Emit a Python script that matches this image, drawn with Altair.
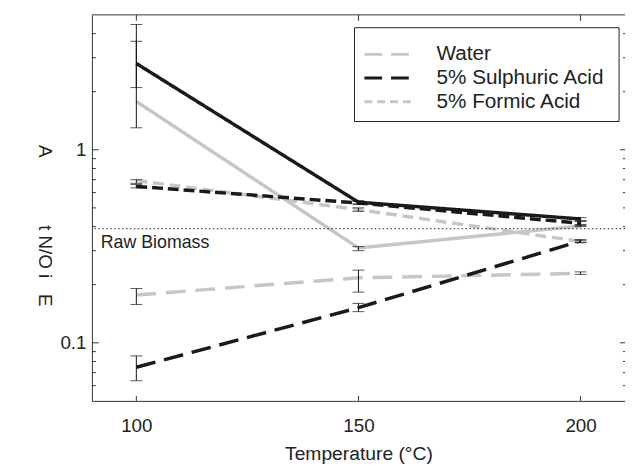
import altair as alt
import pandas as pd

# ---------------- data ----------------
temperatures = [100, 150, 200]
series_names = ["Water", "5% Sulphuric Acid", "5% Formic Acid",
                "Sulphuric Acid (solid)", "Water (solid)", "Formic Acid (black)"]

water = [0.177, 0.217, 0.229]
sulphuric = [0.0747, 0.152, 0.337]
formic = [0.693, 0.49, 0.335]
black_solid = [2.80, 0.535, 0.438]
grey_solid = [1.78, 0.31, 0.403]
black_short = [0.646, 0.53, 0.416]

water_lo = [0.158, 0.183, 0.226]
water_hi = [0.191, 0.238, 0.233]
sulphuric_lo = [0.0636, 0.145, 0.332]
sulphuric_hi = [0.0855, 0.160, 0.342]
formic_lo = [0.67, 0.48, 0.33]
formic_hi = [0.70, 0.50, 0.34]
black_solid_lo = [1.30, 0.525, 0.43]
black_solid_hi = [4.46, 0.545, 0.445]
grey_solid_lo = [2.10, 0.30, 0.40]
grey_solid_hi = [3.65, 0.315, 0.41]
black_short_lo = [0.635, 0.52, 0.405]
black_short_hi = [0.66, 0.54, 0.425]

raw_biomass = 0.39
raw_label = "Raw Biomass"

y_major = [0.1, 1]
y_minor = [0.06, 0.07, 0.08, 0.09, 0.2, 0.3, 0.4, 0.5, 0.6, 0.7, 0.8, 0.9, 2, 3, 4]

# ---------------- styles ----------------
colors = ["#c6c6c6", "#1a1a1a", "#c6c6c6", "#1a1a1a", "#c6c6c6", "#1a1a1a"]
dashes = [[20, 10], [20, 9], [11, 6], [1, 0], [1, 0], [11, 5]]
legend_dashes = [[18, 9], [18, 9], [8, 5]]
widths = [3.5, 3.5, 3.5, 2.5, 2.8, 3.5]
FONT = "Liberation Sans"
W, H = 540, 391

values_all = [water, sulphuric, formic, black_solid, grey_solid, black_short]
lo_all = [water_lo, sulphuric_lo, formic_lo, black_solid_lo, grey_solid_lo, black_short_lo]
hi_all = [water_hi, sulphuric_hi, formic_hi, black_solid_hi, grey_solid_hi, black_short_hi]

rows, err_rows = [], []
for name, vals, los, his in zip(series_names, values_all, lo_all, hi_all):
    for t, v, lo, hi in zip(temperatures, vals, los, his):
        rows.append({"temp": t, "value": v, "series": name})
        err_rows.append({"temp": t, "lo": lo, "hi": hi, "series": name})
df = pd.DataFrame(rows)
df_err = pd.DataFrame(err_rows)

xscale = alt.Scale(domain=[90, 210], nice=False)
yscale = alt.Scale(type="log", domain=[0.05, 5], nice=False)

ytitle = "A" + "\u00a0" * 13 + "t N/O i" + "\u00a0" * 3 + "E"

xaxis = alt.Axis(values=temperatures, title="Temperature (°C)", ticks=False,
                 labelFontSize=19, labelPadding=16, labelFont=FONT,
                 labelColor="#222", titleFont=FONT, titleFontSize=19.5,
                 titleFontWeight="normal", titleColor="#222", titlePadding=9,
                 domainColor="#333", grid=False, labelFlush=False)
yaxis = alt.Axis(values=y_major, format="~g", ticks=False, labelFontSize=19,
                 labelFont=FONT, labelColor="#222", labelPadding=6,
                 domainColor="#333", grid=False, title=ytitle,
                 titleAngle=90, titleX=-48, titleY=213, titleAlign="center",
                 titleBaseline="middle", titleFont=FONT, titleFontSize=19,
                 titleFontWeight="normal", titleColor="#222")


def X(field):
    return alt.X(field, scale=xscale, axis=xaxis)


def Y(field):
    return alt.Y(field, scale=yscale, axis=yaxis)


lines = alt.Chart(df).mark_line().encode(
    x=X("temp:Q"),
    y=Y("value:Q"),
    color=alt.Color("series:N", scale=alt.Scale(domain=series_names, range=colors), legend=None),
    strokeDash=alt.StrokeDash("series:N", scale=alt.Scale(domain=series_names, range=dashes), legend=None),
    strokeWidth=alt.StrokeWidth("series:N", scale=alt.Scale(domain=series_names, range=widths), legend=None),
)

err_rule = alt.Chart(df_err).mark_rule(color="#111", strokeWidth=1).encode(
    x=X("temp:Q"), y=Y("lo:Q"), y2="hi:Q")
cap_lo = alt.Chart(df_err).mark_tick(color="#111", orient="horizontal", size=12, thickness=1).encode(
    x=X("temp:Q"), y=Y("lo:Q"))
cap_hi = alt.Chart(df_err).mark_tick(color="#111", orient="horizontal", size=12, thickness=1).encode(
    x=X("temp:Q"), y=Y("hi:Q"))

raw_df = pd.DataFrame({"v": [raw_biomass], "t": [92.0], "label": [raw_label]})
raw_line = alt.Chart(raw_df).mark_rule(color="#222", strokeWidth=1, strokeDash=[1.5, 2.5]).encode(
    y=Y("v:Q"))
raw_text = alt.Chart(raw_df).mark_text(align="left", baseline="top", dy=6, fontSize=18,
                                       font=FONT, color="#222").encode(
    x=X("t:Q"), y=Y("v:Q"), text="label:N")

# frame top line and inward ticks
one = pd.DataFrame({"k": [0]})
top_line = alt.Chart(one).mark_rule(color="#333", strokeWidth=1).encode(y=alt.value(0))
maj_df = pd.DataFrame({"v": y_major})
min_df = pd.DataFrame({"v": y_minor})
xt_df = pd.DataFrame({"t": temperatures})
left_major = alt.Chart(maj_df).mark_rule(color="#333").encode(
    y=Y("v:Q"), x=alt.value(0), x2=alt.value(7))
left_minor = alt.Chart(min_df).mark_rule(color="#333").encode(
    y=Y("v:Q"), x=alt.value(0), x2=alt.value(4))
right_major = alt.Chart(maj_df).mark_rule(color="#333").encode(
    y=Y("v:Q"), x=alt.value(W - 5), x2=alt.value(W))
right_minor = alt.Chart(min_df).mark_rule(color="#333").encode(
    y=Y("v:Q"), x=alt.value(W - 2), x2=alt.value(W))
bottom_ticks = alt.Chart(xt_df).mark_rule(color="#333").encode(
    x=X("t:Q"), y=alt.value(H - 5), y2=alt.value(H))
top_ticks = alt.Chart(xt_df).mark_rule(color="#333").encode(
    x=X("t:Q"), y=alt.value(0), y2=alt.value(6))

# legend box (drawn by hand, pixel offsets inside the plot area)
LX0, LX1, LY0, LY1 = 266, 534, 13, 108
legend_layers = [
    alt.Chart(one).mark_rect(fill="white", stroke="#222", strokeWidth=1).encode(
        x=alt.value(LX0), x2=alt.value(LX1), y=alt.value(LY0), y2=alt.value(LY1))
]
for i, name in enumerate(series_names[:3]):
    yy = 40 + 24 * i
    legend_layers.append(
        alt.Chart(one).mark_rule(color=colors[i], strokeWidth=3, strokeDash=legend_dashes[i]).encode(
            x=alt.value(276), x2=alt.value(327), y=alt.value(yy)))
    legend_layers.append(
        alt.Chart(one).mark_text(align="left", baseline="middle", fontSize=21, font=FONT,
                                 color="#222").encode(
            x=alt.value(349), y=alt.value(yy), text=alt.value(name)))

chart = alt.layer(
    lines, raw_line, raw_text, err_rule, cap_lo, cap_hi,
    top_line, left_major, left_minor, right_major, right_minor, bottom_ticks, top_ticks,
    *legend_layers,
).properties(
    width=W, height=H,
    autosize=alt.AutoSizeParams(type="none"),
    padding={"left": 85, "top": 4, "right": 0, "bottom": 64},
    background="white",
).configure_view(stroke=None)

chart.save("out.html", embed_options={"renderer": "svg", "actions": False})
